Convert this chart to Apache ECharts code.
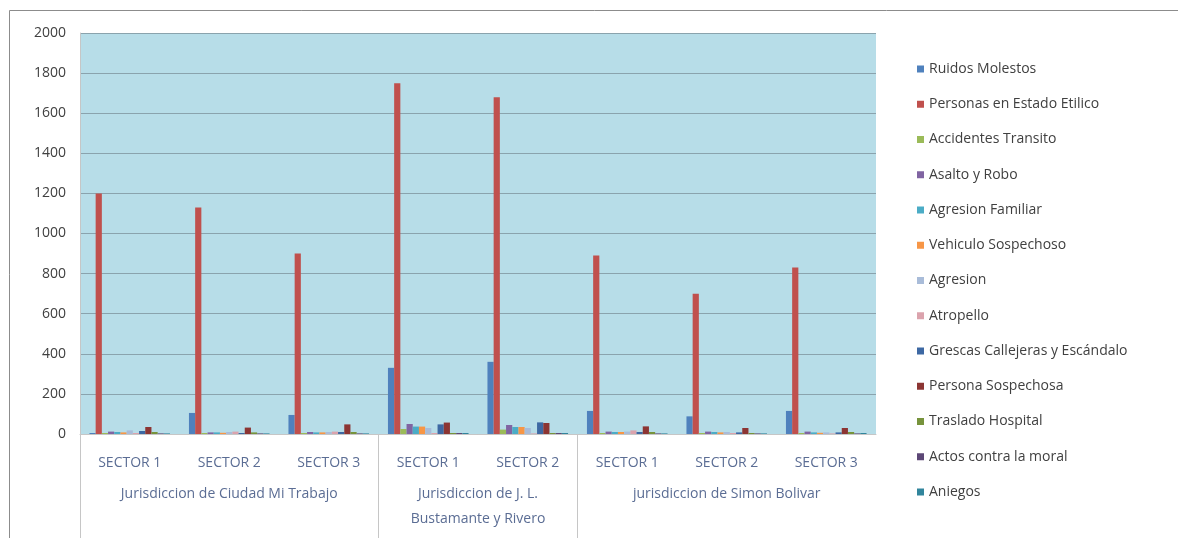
<!DOCTYPE html>
<html>
<head>
<meta charset="utf-8">
<script src="https://cdn.jsdelivr.net/npm/echarts@6/dist/echarts.min.js"></script>
<style>
  html, body { margin: 0; padding: 0; background: #fff; }
  #chart { width: 1178px; height: 538px; }
</style>
</head>
<body>
<div id="chart"></div>
<script>
// sectores (eje x, primer nivel)
const sectors = ['SECTOR 1', 'SECTOR 2', 'SECTOR 3', 'SECTOR 1', 'SECTOR 2', 'SECTOR 1', 'SECTOR 2', 'SECTOR 3'];
// jurisdicciones (segundo nivel) y sus limites en unidades de categoria
const jurisdictions = ['Jurisdiccion de Ciudad Mi Trabajo', 'Jurisdiccion de J. L.\nBustamante y Rivero', 'jurisdiccion de Simon Bolivar'];
const jurCenters = [1.5, 4, 6.5];
const jurBounds = [0, 3, 5];

const seriesNames = ['Ruidos Molestos', 'Personas en Estado Etilico', 'Accidentes Transito', 'Asalto y Robo',
  'Agresion Familiar', 'Vehiculo Sospechoso', 'Agresion', 'Atropello', 'Grescas Callejeras y Escándalo',
  'Persona Sospechosa', 'Traslado Hospital', 'Actos contra la moral', 'Aniegos'];
const colors = ['#4f81bd', '#c0504d', '#9bbb59', '#8064a2', '#4bacc6', '#f79646', '#a9bcd9', '#dba3ad',
  '#3d68a3', '#8c3533', '#77933c', '#5c4776', '#31859c'];

// valores por tipo de incidente (8 sectores)
const ruidos      = [5, 105, 95, 330, 360, 115, 88, 115];
const etilico     = [1200, 1130, 900, 1750, 1680, 890, 700, 830];
const accidentes  = [5, 5, 5, 25, 22, 5, 5, 5];
const asalto      = [12, 8, 10, 50, 45, 12, 12, 12];
const agrFamiliar = [10, 8, 8, 37, 35, 10, 10, 8];
const vehiculo    = [8, 6, 8, 37, 35, 10, 8, 6];
const agresion    = [18, 10, 10, 30, 30, 12, 10, 8];
const atropello   = [5, 12, 12, 5, 3, 18, 5, 3];
const grescas     = [15, 5, 10, 48, 58, 10, 8, 8];
const sospechosa  = [35, 32, 48, 57, 55, 38, 30, 30];
const traslado    = [10, 8, 10, 5, 5, 10, 5, 10];
const actos       = [3, 3, 3, 5, 5, 3, 3, 3];
const aniegos     = [3, 3, 3, 5, 5, 3, 3, 5];
const seriesData = [ruidos, etilico, accidentes, asalto, agrFamiliar, vehiculo, agresion, atropello,
  grescas, sospechosa, traslado, actos, aniegos];

const font = 'Open Sans';
let myChart = echarts.init(document.getElementById('chart'));
myChart.setOption({
  backgroundColor: '#ffffff',
  animation: false,
  color: colors,
  textStyle: { fontFamily: font },
  graphic: [{
    type: 'rect',
    shape: { x: 9.5, y: 10.5, width: 1300, height: 700 },
    style: { fill: 'none', stroke: '#8c8c8c', lineWidth: 1 },
    silent: true, z: -1
  }],
  grid: {
    left: 80, right: 302, top: 33, bottom: 104,
    show: true, backgroundColor: '#b7dde8', borderWidth: 0
  },
  legend: {
    orient: 'vertical',
    left: 912, top: 57,
    itemWidth: 7, itemHeight: 7, itemGap: 21.25,
    icon: 'rect',
    textStyle: { fontFamily: font, fontSize: 14, color: '#404040' },
    data: seriesNames
  },
  xAxis: [{
    type: 'category',
    data: sectors,
    axisLine: { show: true, lineStyle: { color: '#c6c6c6' } },
    axisTick: { show: false },
    axisLabel: { margin: 22, fontSize: 14, color: '#5b6d94', fontFamily: font }
  }, {
    type: 'value',
    position: 'bottom',
    min: 0, max: 8,
    splitLine: { show: false },
    axisLine: { show: false },
    axisTick: { show: true, length: 104, customValues: jurBounds, lineStyle: { color: '#c6c6c6' } },
    axisLabel: {
      customValues: jurCenters,
      margin: 48,
      verticalAlign: 'top',
      fontSize: 14, lineHeight: 25, color: '#5b6d94', fontFamily: font,
      formatter: function (v) { return jurisdictions[jurCenters.indexOf(v)]; }
    }
  }],
  yAxis: {
    type: 'value',
    min: 0, max: 2000, interval: 200,
    axisLine: { show: true, lineStyle: { color: '#c6c6c6' } },
    axisTick: { show: false },
    axisLabel: { margin: 14, fontSize: 14, color: '#404040', fontFamily: font,
      formatter: function (v) { return String(v); } },
    splitLine: { lineStyle: { color: '#8aa3ad', width: 1 } }
  },
  series: seriesNames.map(function (name, i) {
    return {
      name: name,
      type: 'bar',
      barGap: '0%',
      barCategoryGap: '19%',
      data: seriesData[i]
    };
  })
});
</script>
</body>
</html>
